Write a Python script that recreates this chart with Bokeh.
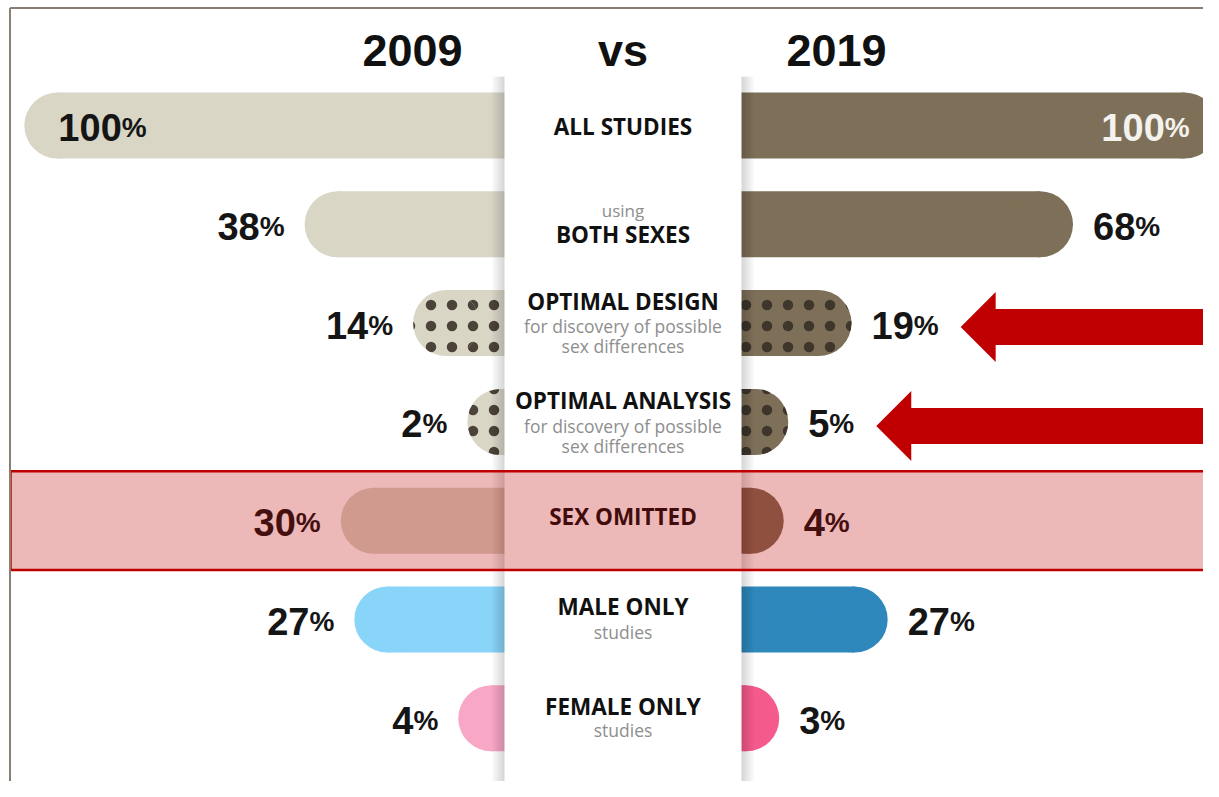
from bokeh.plotting import figure
from bokeh.models import Range1d, ColumnDataSource
from bokeh.core.properties import value
from bokeh.embed import file_html
from bokeh.resources import INLINE

# ---------------- data ----------------
categories = ["ALL STUDIES", "BOTH SEXES", "OPTIMAL DESIGN", "OPTIMAL ANALYSIS",
              "SEX OMITTED", "MALE ONLY", "FEMALE ONLY"]
sub_above = ["", "using", "", "", "", "", ""]
sub_below_1 = ["", "", "for discovery of possible", "for discovery of possible", "", "studies", "studies"]
sub_below_2 = ["", "", "sex differences", "sex differences", "", "", ""]
values_2009 = [100, 38, 14, 2, 30, 27, 4]
values_2019 = [100, 68, 19, 5, 4, 27, 3]
year_left = "2009"
year_right = "2019"
vs_label = "vs"
colors_2009 = ["#D9D6C6", "#D9D6C6", "#D9D6C6", "#D9D6C6", "#D9D6C6", "#89D4F9", "#F8A8C6"]
colors_2019 = ["#7E7058", "#7E7058", "#7E7058", "#7E7058", "#7E7058", "#2E88BC", "#F55A8C"]
dot_colors_2009 = "#4B4339"
dot_colors_2019 = "#3E352B"
dotted_rows = [2, 3]
highlight_rows = [4]
arrow_rows = [2, 3]

# ---------------- layout ----------------
W, H = 1203, 781
PXX = 4.52          # px per percent
CX = 620.5          # centre (px from figure left)
ROW = 98.8          # px per row
ROW0 = 125.0        # px of first row centre from figure top
GAP = 32.0          # percent hidden behind centre panel
BAR_PX = 66
R = BAR_PX / 2 / PXX


def dx(px):
    return px / PXX


def dy(px):
    return px / ROW


XMIN, XMAX = -CX / PXX, (W - CX) / PXX
YTOP, YBOT = -ROW0 / ROW, (H - ROW0) / ROW

p = figure(width=W, height=H, output_backend="svg", toolbar_location=None,
           x_range=Range1d(XMIN, XMAX), y_range=Range1d(YBOT, YTOP),
           min_border=0, outline_line_color=None,
           background_fill_color="white", border_fill_color="white")
p.axis.visible = False
p.grid.visible = False

rows = list(range(len(categories)))

# ---------------- bars ----------------
for side, vals, cols, dotc in (("L", values_2009, colors_2009, dot_colors_2009),
                               ("R", values_2019, colors_2019, dot_colors_2019)):
    for dotted in (False, True):
        idx = [i for i in rows if (i in dotted_rows) == dotted]
        if side == "L":
            ends = [-(GAP + vals[i]) for i in idx]
            cx = [e + R for e in ends]
            left, right = cx, [0] * len(idx)
        else:
            ends = [GAP + vals[i] for i in idx]
            cx = [e - R for e in ends]
            left, right = [0] * len(idx), cx
        src = ColumnDataSource(dict(y=idx, left=left, right=right, cx=cx,
                                    color=[cols[i] for i in idx]))
        kw = {}
        if dotted:
            kw = dict(hatch_pattern="dot", hatch_color=dotc, hatch_scale=21, hatch_weight=4)
        p.hbar(y="y", left="left", right="right", height=dy(BAR_PX), source=src,
               fill_color="color", line_color=None, **kw)
        p.scatter(x="cx", y="y", size=BAR_PX, marker="circle", source=src,
                  fill_color="color", line_color=None, **kw)

# ---------------- value labels ----------------
DFS, PFS = 38, 28
DW, PW = 0.556 * DFS, 0.889 * PFS
for side, vals in (("L", values_2009), ("R", values_2019)):
    dxs, pxs, ys, tc = [], [], [], []
    for i in rows:
        v = vals[i]
        nd = len(str(v))
        tot = nd * DW + PW
        if side == "L":
            end = -(GAP + v)
            start = end + dx(34) if v == 100 else end - dx(20) - dx(tot)
        else:
            end = GAP + v
            start = end - dx(28) - dx(tot) if v == 100 else end + dx(20)
        dxs.append(start)
        pxs.append(start + dx(nd * DW))
        ys.append(i + dy(2))
        tc.append("#F4F2EE" if (side == "R" and v == 100) else "#151515")
    src = ColumnDataSource(dict(dx=dxs, px=pxs, y=ys, d=[str(vals[i]) for i in rows],
                                pc=["%"] * len(rows), c=tc))
    p.text(x="dx", y="y", text="d", source=src, text_color="c",
           text_font=value("Liberation Sans"), text_font_style="bold",
           text_font_size=f"{DFS}px", text_align="left", text_baseline="alphabetic")
    p.text(x="px", y="y", text="pc", source=src, text_color="c",
           text_font=value("Liberation Sans"), text_font_style="bold",
           text_font_size=f"{PFS}px", text_align="left", text_baseline="alphabetic")

# ---------------- centre panel ----------------
PL, PR = dx(-116.5), dx(120.5)
PT, PB = YTOP + dy(70), YBOT
for k in range(8, 0, -1):
    p.quad(left=PL - dx(1.6 * k), right=PR + dx(1.6 * k), top=PT + dy(6), bottom=PB,
           fill_color="black", fill_alpha=0.02, line_color=None)
p.quad(left=PL, right=PR, top=PT, bottom=PB, fill_color="white", line_color=None)

# ---------------- titles ----------------
ty = YTOP + dy(50)
tsrc = ColumnDataSource(dict(x=[dx(412 - CX), dx(2), dx(836 - CX)], y=[ty] * 3,
                             t=[year_left, vs_label, year_right]))
p.text(x="x", y="y", text="t", source=tsrc, text_color="#111111",
       text_font=value("Liberation Sans"), text_font_style="bold",
       text_font_size="45px", text_align="center", text_baseline="middle")

# ---------------- centre labels ----------------
main_off = [1, 10, -22, -21, -4, -13, -12]
ab_off = [0, -14, 0, 0, 0, 0, 0]
b1_off = [0, 0, 3, 4, 0, 12, 12]
b2_off = [0, 0, 23, 24, 0, 0, 0]
mx = dx(2)
msrc = ColumnDataSource(dict(x=[mx] * len(rows), y=[i + dy(main_off[i]) for i in rows], t=categories))
p.text(x="x", y="y", text="t", source=msrc, text_color="#111111",
       text_font=value("Open Sans"), text_font_style="bold", text_font_size="22.5px",
       text_align="center", text_baseline="middle")
for lab, off, fs in ((sub_above, ab_off, "17px"), (sub_below_1, b1_off, "17.5px"),
                     (sub_below_2, b2_off, "17.5px")):
    idx = [i for i in rows if lab[i]]
    s = ColumnDataSource(dict(x=[mx] * len(idx), y=[i + dy(off[i]) for i in idx],
                              t=[lab[i] for i in idx]))
    p.text(x="x", y="y", text="t", source=s, text_color="#8E8E8E",
           text_font=value("Open Sans"), text_font_size=fs,
           text_align="center", text_baseline="middle")

# ---------------- highlight band ----------------
for r in highlight_rows:
    p.quad(left=XMIN + dx(10), right=XMAX + 5, top=r - 0.5, bottom=r + 0.5,
           fill_color="#C00000", fill_alpha=0.28, line_color="#C00000", line_width=2.5)

# ---------------- arrows ----------------
xs, ys = [], []
for r in arrow_rows:
    v = values_2019[r]
    nd = len(str(v))
    tip = GAP + v + dx(20) + dx(nd * DW + PW) + dx(22)
    yc = r + dy(4)
    hl, hh, sh = dx(35), dy(35), dy(18)
    far = XMAX + 5
    xs.append([tip, tip + hl, tip + hl, far, far, tip + hl, tip + hl])
    ys.append([yc, yc - hh, yc - sh, yc - sh, yc + sh, yc + sh, yc + hh])
p.patches(xs=xs, ys=ys, fill_color="#C00000", line_color=None)

# ---------------- frame lines ----------------
top_y = YTOP + dy(7.5)
left_x = XMIN + dx(9.5)
p.segment(x0=[left_x, left_x], y0=[top_y, top_y], x1=[XMAX + 5, left_x],
          y1=[top_y, YBOT + 1], line_color="#8A8072", line_width=2)

open("out.html", "w").write(file_html(p, INLINE))
